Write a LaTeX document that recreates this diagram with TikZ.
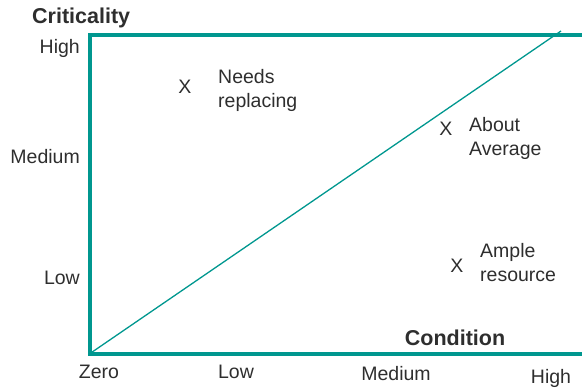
\documentclass[tikz,border=0pt]{standalone}
\usepackage{fontspec}
\setmainfont{Liberation Sans}
\definecolor{axisteal}{HTML}{00978F}
\definecolor{txt}{HTML}{2E2E2E}
\begin{document}
\begin{tikzpicture}[x=1pt,y=-1pt,
  lbl/.style={inner sep=0pt,text=txt,font=\fontsize{19.5}{24}\selectfont},
  ttl/.style={inner sep=0pt,text=txt,font=\fontsize{21.5}{24}\selectfont\bfseries},
  axisline/.style={draw=axisteal,line width=4pt,line join=miter},
  diag/.style={draw=axisteal,line width=1.3pt}]
\useasboundingbox (0,0) rectangle (582,389);
\coordinate (TR) at (582,35);
\coordinate (TL) at (90,35);
\coordinate (O) at (90,353.5);
\coordinate (BR) at (582,353.5);
\coordinate (D) at (561,31);
\draw[axisline] (TR) -- (TL) -- (O) -- (BR);
\draw[diag] (O) -- (D);
% axis titles
\node[ttl,anchor=base west] (crit) at (32,23) {Criticality};
\node[ttl,anchor=base] (cond) at (455,345) {Condition};
% y labels
\node[lbl,anchor=base east] (yh) at (80,53) {High};
\node[lbl,anchor=base east] (ym) at (80,163) {Medium};
\node[lbl,anchor=base east] (yl) at (80,284) {Low};
% x labels
\node[lbl,anchor=base] (xz) at (99,378) {Zero};
\node[lbl,anchor=base] (xl) at (236,378) {Low};
\node[lbl,anchor=base] (xm) at (396,380) {Medium};
\node[lbl,anchor=base] (xh) at (551,383) {High};
% points
\node[lbl,anchor=base] (p1) at (185,93) {X};
\node[lbl,anchor=base west,align=left] (t1) at (218,107.5) {Needs\\replacing};
\node[lbl,anchor=base] (p2) at (446,135) {X};
\node[lbl,anchor=base west,align=left] (t2) at (469,155.5) {About\\Average};
\node[lbl,anchor=base] (p3) at (457,272) {X};
\node[lbl,anchor=base west,align=left] (t3) at (480,281) {Ample\\resource};
\end{tikzpicture}
\end{document}
